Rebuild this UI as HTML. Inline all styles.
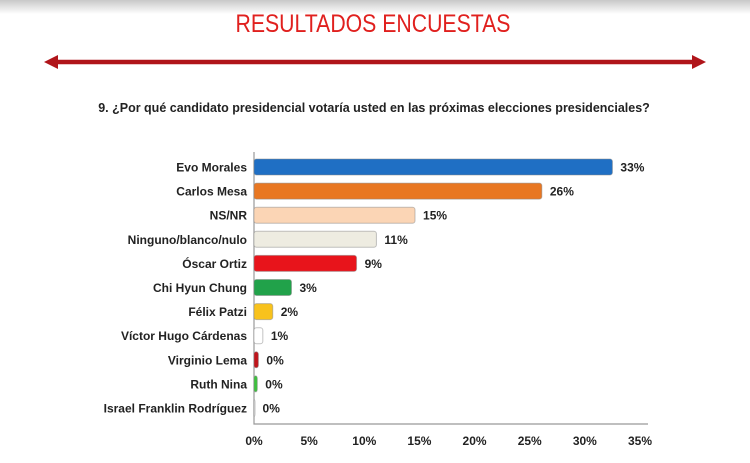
<!DOCTYPE html>
<html><head><meta charset="utf-8"><style>
body{margin:0;width:750px;height:463px;background:#fff;overflow:hidden;font-family:"Liberation Sans",sans-serif}
</style></head><body>
<svg width="750" height="463" style="position:absolute;left:0;top:0">
<defs><linearGradient id="hdr" x1="0" y1="0" x2="0" y2="1"><stop offset="0" stop-color="#c8c8c8"/><stop offset="1" stop-color="#fff"/></linearGradient></defs>
<rect x="0" y="0" width="750" height="14" fill="url(#hdr)"/>
<text x="373" y="32" text-anchor="middle" font-size="25" fill="#e0201e" transform="translate(373,0) scale(0.85,1) translate(-373,0)">RESULTADOS ENCUESTAS</text>
<g>
<line x1="52" y1="62" x2="698" y2="62" stroke="#b0151a" stroke-width="4.5"/>
<polygon points="44,62 58,55 58,69" fill="#b0151a"/>
<polygon points="706,62 692,55 692,69" fill="#b0151a"/>
</g>
<text x="374" y="112" text-anchor="middle" font-size="12.5" font-weight="bold" fill="#222">9. ¿Por qué candidato presidencial votaría usted en las próximas  elecciones presidenciales?</text>
<g id="plot"></g>
</svg>
<script>
const categories=["Evo Morales","Carlos Mesa","NS/NR","Ninguno/blanco/nulo","Óscar Ortiz","Chi Hyun Chung","Félix Patzi","Víctor Hugo Cárdenas","Virginio Lema","Ruth Nina","Israel Franklin Rodríguez"];
const values=[32.5,26.1,14.6,11.1,9.3,3.4,1.7,0.8,0.4,0.3,0.05];
const valueLabels=["33%","26%","15%","11%","9%","3%","2%","1%","0%","0%","0%"];
const colors=["#1f6fc4","#e87722","#fbd5b5","#eeece1","#e8141b","#21a24a","#f8c21c","#ffffff","#c0141b","#3cc23c","#ffffff"];
const ticks=[0,5,10,15,20,25,30,35];
const NS="http://www.w3.org/2000/svg";
const x0=254,xMax=640,y0=167,step=24.1,bh=16,axisY=424;
const xs=v=>x0+v/35*(xMax-x0);
const ys=i=>y0+i*step;
const g=document.getElementById('plot');
function mk(t,a){const e=document.createElementNS(NS,t);for(const k in a)e.setAttribute(k,a[k]);g.appendChild(e);return e;}
const ax=mk('path',{d:`M${x0} 152V${axisY}H${xMax+8}`,stroke:'#999',fill:'none','stroke-width':1.2});


categories.forEach((c,i)=>{
 const y=ys(i);
 const l=mk('text',{x:247,y:y+4.5,'text-anchor':'end','font-size':12,'font-weight':'bold',fill:'#222'});
 l.textContent=c;
 
 
 const w=Math.max(xs(values[i])-x0,1);
 const b=mk('rect',{x:x0,y:y-bh/2,width:w,height:bh,rx:2.5,fill:colors[i],stroke:'#888','stroke-opacity':0.5,'stroke-width':1});
 
 
 const v=mk('text',{x:xs(values[i])+8,y:y+4.5,'font-size':12,'font-weight':'bold',fill:'#222'});
 v.textContent=valueLabels[i];
 
 
});
ticks.forEach(t=>{
 const e=mk('text',{x:xs(t),y:445,'text-anchor':'middle','font-size':12,'font-weight':'bold',fill:'#222'});
 e.textContent=t+'%';
 
 
});
</script>
</body></html>
